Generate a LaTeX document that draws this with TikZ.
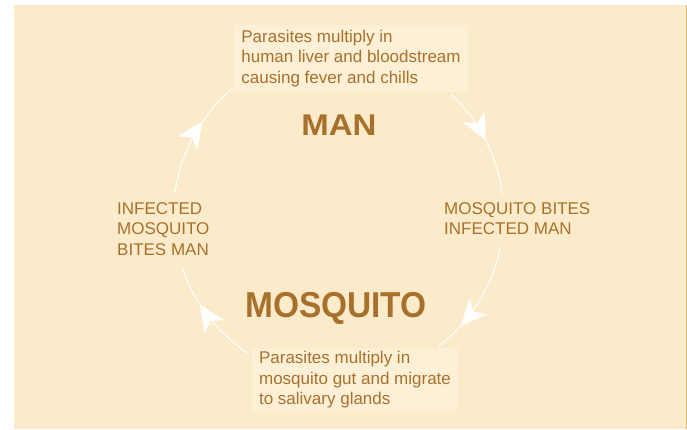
\documentclass[tikz,border=0pt]{standalone}
\usepackage{fontspec}
\setmainfont{Liberation Sans}
\usetikzlibrary{arrows.meta,decorations.markings,calc}
\definecolor{bg}{HTML}{FCEBCB}
\definecolor{boxbg}{HTML}{FDF0D7}
\definecolor{ink}{HTML}{A8712B}
\definecolor{edgeline}{HTML}{D8B56E}
\begin{document}
\begin{tikzpicture}[x=1pt,y=1pt,
  small/.style={font=\fontsize{17}{20.5}\selectfont, text=ink, align=left, inner sep=0pt},
  tbox/.style={small, fill=boxbg, inner xsep=7pt, inner ysep=0pt},
  big/.style={font=\bfseries, text=ink, inner sep=0pt},
  cyc/.style={draw=white, line width=1pt},
  mk/.style={postaction={decorate}, decoration={markings,
    mark=at position #1 with {\arrow{Stealth[length=26pt,width=24pt,inset=7pt,color=white]}}}}
]
\useasboundingbox (0,0) rectangle (687,429);
\fill[white] (0,0) rectangle (687,429);
\fill[bg] (14,0) rectangle (686,424);
\fill[edgeline] (686,0) rectangle (687,424);

% text boxes
\node[tbox, minimum height=67pt] (hum) at (351,370.5)
  {Parasites multiply in\\human liver and bloodstream\\causing fever and chills};
\node[tbox, minimum height=63.5pt] (mos) at (355,49.3)
  {Parasites multiply in\\mosquito gut and migrate\\to salivary glands};

% host labels
\node[big, anchor=base] (man) at (339,294)
  {\fontsize{30}{30}\selectfont\scalebox{1.1}[1]{MAN}};
\node[big, anchor=base] (mosq) at (336,112)
  {\fontsize{36}{36}\selectfont\scalebox{0.93}[1]{MOSQUITO}};

% transfer labels
\node[small, anchor=north west] (left) at (117,226.9)
  {INFECTED\\MOSQUITO\\BITES MAN};
\node[small, anchor=north west] (right) at (444,226.9)
  {MOSQUITO BITES\\INFECTED MAN};

% cycle
\coordinate (c) at (338.5,214);
\coordinate (tl1) at ($(c)+(172.3:165)$);
\coordinate (ru1) at ($(c)+(46.8:165)$);
\coordinate (rl1) at ($(c)+(-11.2:165)$);
\coordinate (ll1) at ($(c)+(237:165)$);
\draw[cyc, mk=0.63] (tl1) arc[start angle=172.3, end angle=129.9, radius=165];
\draw[cyc, mk=0.5] (ru1) arc[start angle=46.8, end angle=7, radius=165];
\draw[cyc, mk=0.74] (rl1) arc[start angle=-11.2, end angle=-53, radius=165];
\draw[cyc, mk=0.62] (ll1) arc[start angle=237, end angle=198.4, radius=165];
\end{tikzpicture}
\end{document}
